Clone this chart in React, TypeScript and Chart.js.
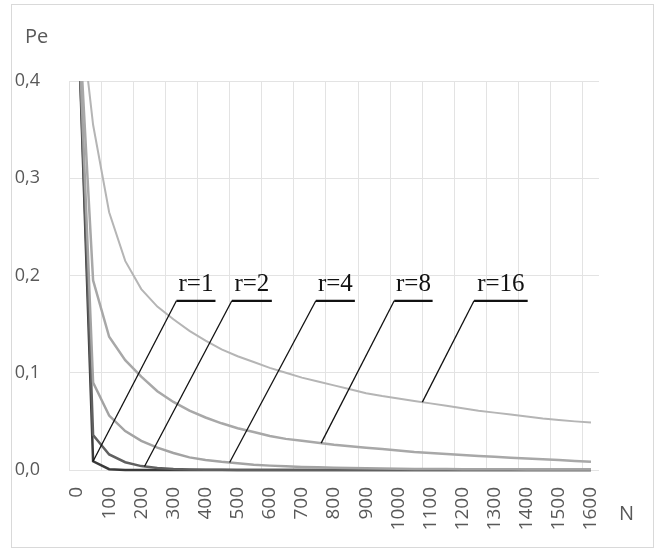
import React, { useEffect, useRef } from 'react';
import { Chart, registerables } from 'chart.js';

Chart.register(...registerables);

// ---- data ----
const nValues = [
  0, 50, 100, 150, 200, 250, 300, 350, 400, 450, 500, 550, 600, 650, 700, 750, 800,
  850, 900, 950, 1000, 1050, 1100, 1150, 1200, 1250, 1300, 1350, 1400, 1450, 1500, 1550, 1600,
];
const xTickLabels = ['0', '100', '200', '300', '400', '500', '600', '700', '800', '900', '1000', '1100', '1200', '1300', '1400', '1500', '1600'];
const yTickValues = [0, 0.1, 0.2, 0.3, 0.4];
const seriesNames = ['r=1', 'r=2', 'r=4', 'r=8', 'r=16'];

const peR1 = [0.5, 0.009, 0.0008, 0.0001, 0, 0, 0, 0, 0, 0, 0, 0, 0, 0, 0, 0, 0, 0, 0, 0, 0, 0, 0, 0, 0, 0, 0, 0, 0, 0, 0, 0, 0];
const peR2 = [0.5, 0.036, 0.016, 0.008, 0.004, 0.002, 0.001, 0.0005, 0.0003, 0.0002, 0.0001, 0.0001, 0, 0, 0, 0, 0, 0, 0, 0, 0, 0, 0, 0, 0, 0, 0, 0, 0, 0, 0, 0, 0];
const peR4 = [0.5, 0.09, 0.056, 0.04, 0.03, 0.023, 0.0175, 0.013, 0.0102, 0.0084, 0.007, 0.0055, 0.0045, 0.0038, 0.0032, 0.0027, 0.0023, 0.002, 0.0017, 0.0015, 0.0013, 0.0011, 0.001, 0.0009, 0.0008, 0.0008, 0.0007, 0.0007, 0.0006, 0.0006, 0.0005, 0.0005, 0.0005];
const peR8 = [0.5, 0.195, 0.137, 0.113, 0.096, 0.081, 0.07, 0.061, 0.054, 0.048, 0.043, 0.039, 0.035, 0.032, 0.03, 0.028, 0.026, 0.0245, 0.023, 0.0215, 0.02, 0.0185, 0.0175, 0.0165, 0.0155, 0.0145, 0.0135, 0.0125, 0.0117, 0.011, 0.0102, 0.0093, 0.0086];
const peR16 = [0.5, 0.355, 0.265, 0.215, 0.186, 0.168, 0.155, 0.143, 0.133, 0.124, 0.117, 0.111, 0.105, 0.1, 0.095, 0.091, 0.087, 0.083, 0.079, 0.076, 0.0735, 0.071, 0.0685, 0.066, 0.0635, 0.061, 0.059, 0.057, 0.055, 0.053, 0.0515, 0.05, 0.0488];

// annotation callouts (in category-index / value units)
const calloutLabels = ['r=1', 'r=2', 'r=4', 'r=8', 'r=16'];
const calloutTargetIdx = [1, 4.2, 9.5, 15.2, 21.5];
const calloutStartIdx = [6.19, 9.64, 14.87, 19.75, 24.72];
const calloutEndIdx = [8.62, 12.13, 17.3, 22.14, 28.06];
const calloutLevel = 0.174;

const seriesValues = [peR1, peR2, peR4, peR8, peR16];
const seriesColors = ['#3a3a3a', '#606060', '#a3a3a3', '#a8a8a8', '#b5b5b5'];
const seriesWidths = [2.5, 2.5, 2.5, 2.5, 2];

const GRID = '#e3e3e3';
const TEXT = '#595959';

const calloutPlugin = {
  id: 'callouts',
  afterDatasetsDraw(chart: any) {
    const ctx = chart.ctx;
    const xs = chart.scales.x;
    const ys = chart.scales.y;
    ctx.save();
    for (let k = 0; k < calloutLabels.length; k++) {
      const vals = seriesValues[k];
      const t = calloutTargetIdx[k];
      const i0 = Math.floor(t);
      const i1 = Math.min(i0 + 1, vals.length - 1);
      const f = t - i0;
      const tx = xs.getPixelForValue(t);
      const ty = ys.getPixelForValue(vals[i0]) * (1 - f) + ys.getPixelForValue(vals[i1]) * f;
      const sx = xs.getPixelForValue(calloutStartIdx[k]);
      const ex = xs.getPixelForValue(calloutEndIdx[k]);
      const ly = ys.getPixelForValue(calloutLevel);
      ctx.strokeStyle = '#111';
      ctx.lineWidth = 1.3;
      ctx.beginPath();
      ctx.moveTo(sx, ly);
      ctx.lineTo(tx, ty);
      ctx.stroke();
      ctx.lineWidth = 2.2;
      ctx.beginPath();
      ctx.moveTo(sx, ly);
      ctx.lineTo(ex, ly);
      ctx.stroke();
      ctx.fillStyle = '#111';
      ctx.font = '25px "Liberation Serif", "Times New Roman", serif';
      ctx.textAlign = 'center';
      ctx.textBaseline = 'alphabetic';
      ctx.fillText(calloutLabels[k], (sx + ex) / 2, ly - 10);
    }
    ctx.restore();
  },
  afterDraw(chart: any) {
    const ctx = chart.ctx;
    ctx.save();
    ctx.fillStyle = TEXT;
    ctx.font = '20px "Open Sans", sans-serif';
    ctx.textAlign = 'left';
    ctx.textBaseline = 'alphabetic';
    ctx.fillText('Pe', 25, 43);
    ctx.fillText('N', 619, 520);
    ctx.restore();
  },
};

export default function App() {
  const ref = useRef<HTMLCanvasElement | null>(null);
  useEffect(() => {
    document.body.style.margin = '0';
    const canvas = ref.current;
    if (!canvas) return;
    const chart = new Chart(canvas, {
      type: 'line',
      data: {
        labels: nValues.map(String),
        datasets: seriesValues.map((vals, i) => ({
          label: seriesNames[i],
          data: vals,
          borderColor: seriesColors[i],
          backgroundColor: seriesColors[i],
          borderWidth: seriesWidths[i],
          pointRadius: 0,
          pointHoverRadius: 0,
          tension: 0,
          fill: false,
          order: seriesValues.length - i,
          clip: { left: 0, top: 0, right: 0, bottom: 3 } as any,
        })),
      },
      options: {
        animation: false,
        responsive: false,
        events: [],
        layout: { padding: { left: 9, top: 81, right: 66, bottom: 0 } },
        plugins: { legend: { display: false }, tooltip: { enabled: false } },
        scales: {
          x: {
            type: 'category',
            offset: true,
            border: { display: false },
            grid: {
              offset: true,
              drawTicks: false,
              lineWidth: 1,
              color: (c: any) => (c.index % 2 === 0 ? GRID : 'rgba(0,0,0,0)'),
            },
            ticks: {
              autoSkip: false,
              maxRotation: 90,
              minRotation: 90,
              padding: 17,
              color: TEXT,
              font: { family: '"Open Sans", sans-serif', size: 19 },
              callback: (_v: any, i: number) => (i % 2 === 0 ? xTickLabels[i / 2] : ''),
            },
            afterFit: (s: any) => {
              s.height = 61;
            },
          },
          y: {
            min: 0,
            max: 0.4,
            border: { display: false },
            grid: { color: GRID, lineWidth: 1, drawTicks: false },
            afterBuildTicks: (s: any) => {
              s.ticks = yTickValues.map((v) => ({ value: v }));
            },
            ticks: {
              padding: 29,
              color: TEXT,
              font: { family: '"Open Sans", sans-serif', size: 18 },
              callback: (v: any) => Number(v).toFixed(1).replace('.', ','),
            },
            afterFit: (s: any) => {
              s.width = 60;
            },
          },
        },
      },
      plugins: [calloutPlugin],
    });
    return () => chart.destroy();
  }, []);

  return (
    <div style={{ position: 'relative', width: 665, height: 557, background: '#fff' }}>
      <div
        style={{
          position: 'absolute',
          left: 11,
          top: 4,
          width: 643,
          height: 544,
          boxSizing: 'border-box',
          border: '1px solid #d9d9d9',
        }}
      />
      <canvas
        ref={ref}
        width={665}
        height={531}
        style={{ position: 'absolute', left: 0, top: 0, width: 665, height: 531 }}
      />
    </div>
  );
}
